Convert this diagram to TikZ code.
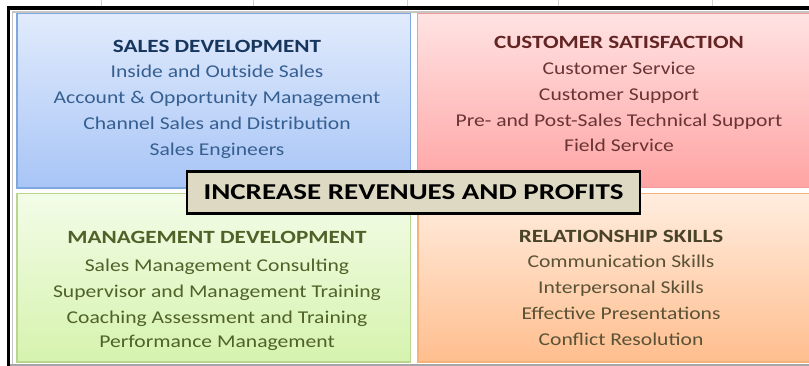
\documentclass[tikz,border=0pt]{standalone}
\usepackage{fontspec}
\setmainfont[FakeStretch=1.2]{Carlito}
\newfontfamily\headfont[FakeStretch=1.24]{Carlito}
\newfontfamily\titlefont[FakeStretch=1.28]{Carlito}
\definecolor{blueTop}{HTML}{E1EBFC}
\definecolor{blueBot}{HTML}{A8C5F6}
\definecolor{blueLine}{HTML}{7FA8E0}
\definecolor{redTop}{HTML}{FFE3E3}
\definecolor{redBot}{HTML}{FFA3A3}
\definecolor{redLine}{HTML}{F09A9A}
\definecolor{greenTop}{HTML}{F3FCE8}
\definecolor{greenBot}{HTML}{D6F3AE}
\definecolor{greenLine}{HTML}{B8D68E}
\definecolor{orangeTop}{HTML}{FFEDDF}
\definecolor{orangeBot}{HTML}{FFBE8E}
\definecolor{orangeLine}{HTML}{F7B27A}
\definecolor{blueHead}{HTML}{17365D}
\definecolor{blueItem}{HTML}{365F91}
\definecolor{redHead}{HTML}{632523}
\definecolor{redItem}{HTML}{6A3434}
\definecolor{greenHead}{HTML}{4F6228}
\definecolor{greenItem}{HTML}{4F6228}
\definecolor{orangeHead}{HTML}{494429}
\definecolor{orangeItem}{HTML}{5A5236}
\definecolor{titleFill}{HTML}{DDD9C3}
\begin{document}
\begin{tikzpicture}[x=0.75pt,y=-0.75pt,
  hd/.style={font=\headfont\fontsize{14}{16}\selectfont\bfseries, anchor=base, inner sep=0pt},
  it/.style={font=\fontsize{13.5}{16}\selectfont, anchor=base, inner sep=0pt},
  quad/.style={line width=1.1pt},
  ttl/.style={font=\titlefont\fontsize{17}{19}\selectfont\bfseries, anchor=base, inner sep=0pt}]
\useasboundingbox (0,0) rectangle (809,366);
\clip (0,0) rectangle (809,366);
\fill[white] (0,0) rectangle (809,366);
% grid ticks above frame
\foreach \gx in {101,253,407,558,712} \draw[gray!35, line width=0.5pt] (\gx,0) -- (\gx,7);
% frame
\draw[black, line width=2.4pt] (8.5,366) -- (8.5,8) -- (809,8);
\draw[gray!45, line width=0.8pt] (12.5,366) -- (12.5,12) -- (809,12);
\draw[gray!70, line width=1.5pt] (10,364.5) -- (809,364.5);
% quadrants
\draw[quad, draw=blueLine, top color=blueTop, bottom color=blueBot] (17,13.5) rectangle (410.5,188);
\draw[quad, draw=redLine, top color=redTop, bottom color=redBot] (417.5,13.5) rectangle (830,187.5);
\draw[quad, draw=greenLine, top color=greenTop, bottom color=greenBot] (17,193.5) rectangle (410.5,362);
\draw[quad, draw=orangeLine, top color=orangeTop, bottom color=orangeBot] (418,193.5) rectangle (830,362);
% sales development
\node[hd, text=blueHead] (sdh) at (217,52.5) {SALES DEVELOPMENT};
\node[it, text=blueItem] (sd1) at (217,78) {Inside and Outside Sales};
\node[it, text=blueItem] (sd2) at (217,104) {Account \& Opportunity Management};
\node[it, text=blueItem] (sd3) at (217,130) {Channel Sales and Distribution};
\node[it, text=blueItem] (sd4) at (217,156) {Sales Engineers};
% customer satisfaction
\node[hd, text=redHead] (csh) at (619,49) {CUSTOMER SATISFACTION};
\node[it, text=redItem] (cs1) at (619,75) {Customer Service};
\node[it, text=redItem] (cs2) at (619,101) {Customer Support};
\node[it, text=redItem] (cs3) at (619,127) {Pre- and Post-Sales Technical Support};
\node[it, text=redItem] (cs4) at (619,152) {Field Service};
% management development
\node[hd, text=greenHead] (mdh) at (217,243.5) {MANAGEMENT DEVELOPMENT};
\node[it, text=greenItem] (md1) at (217,272) {Sales Management Consulting};
\node[it, text=greenItem] (md2) at (217,297.5) {Supervisor and Management Training};
\node[it, text=greenItem] (md3) at (217,323) {Coaching Assessment and Training};
\node[it, text=greenItem] (md4) at (217,347) {Performance Management};
% relationship skills
\node[hd, text=orangeHead] (rsh) at (621,242.5) {RELATIONSHIP SKILLS};
\node[it, text=orangeItem] (rs1) at (621,268) {Communication Skills};
\node[it, text=orangeItem] (rs2) at (621,293.5) {Interpersonal Skills};
\node[it, text=orangeItem] (rs3) at (621,320) {Effective Presentations};
\node[it, text=orangeItem] (rs4) at (621,345.5) {Conflict Resolution};
% title
\draw[fill=titleFill, draw=black, line width=1.6pt] (187,171.5) rectangle (640,213.5);
\node[ttl] (title) at (413.5,199.5) {INCREASE REVENUES AND PROFITS};
\end{tikzpicture}
\end{document}
